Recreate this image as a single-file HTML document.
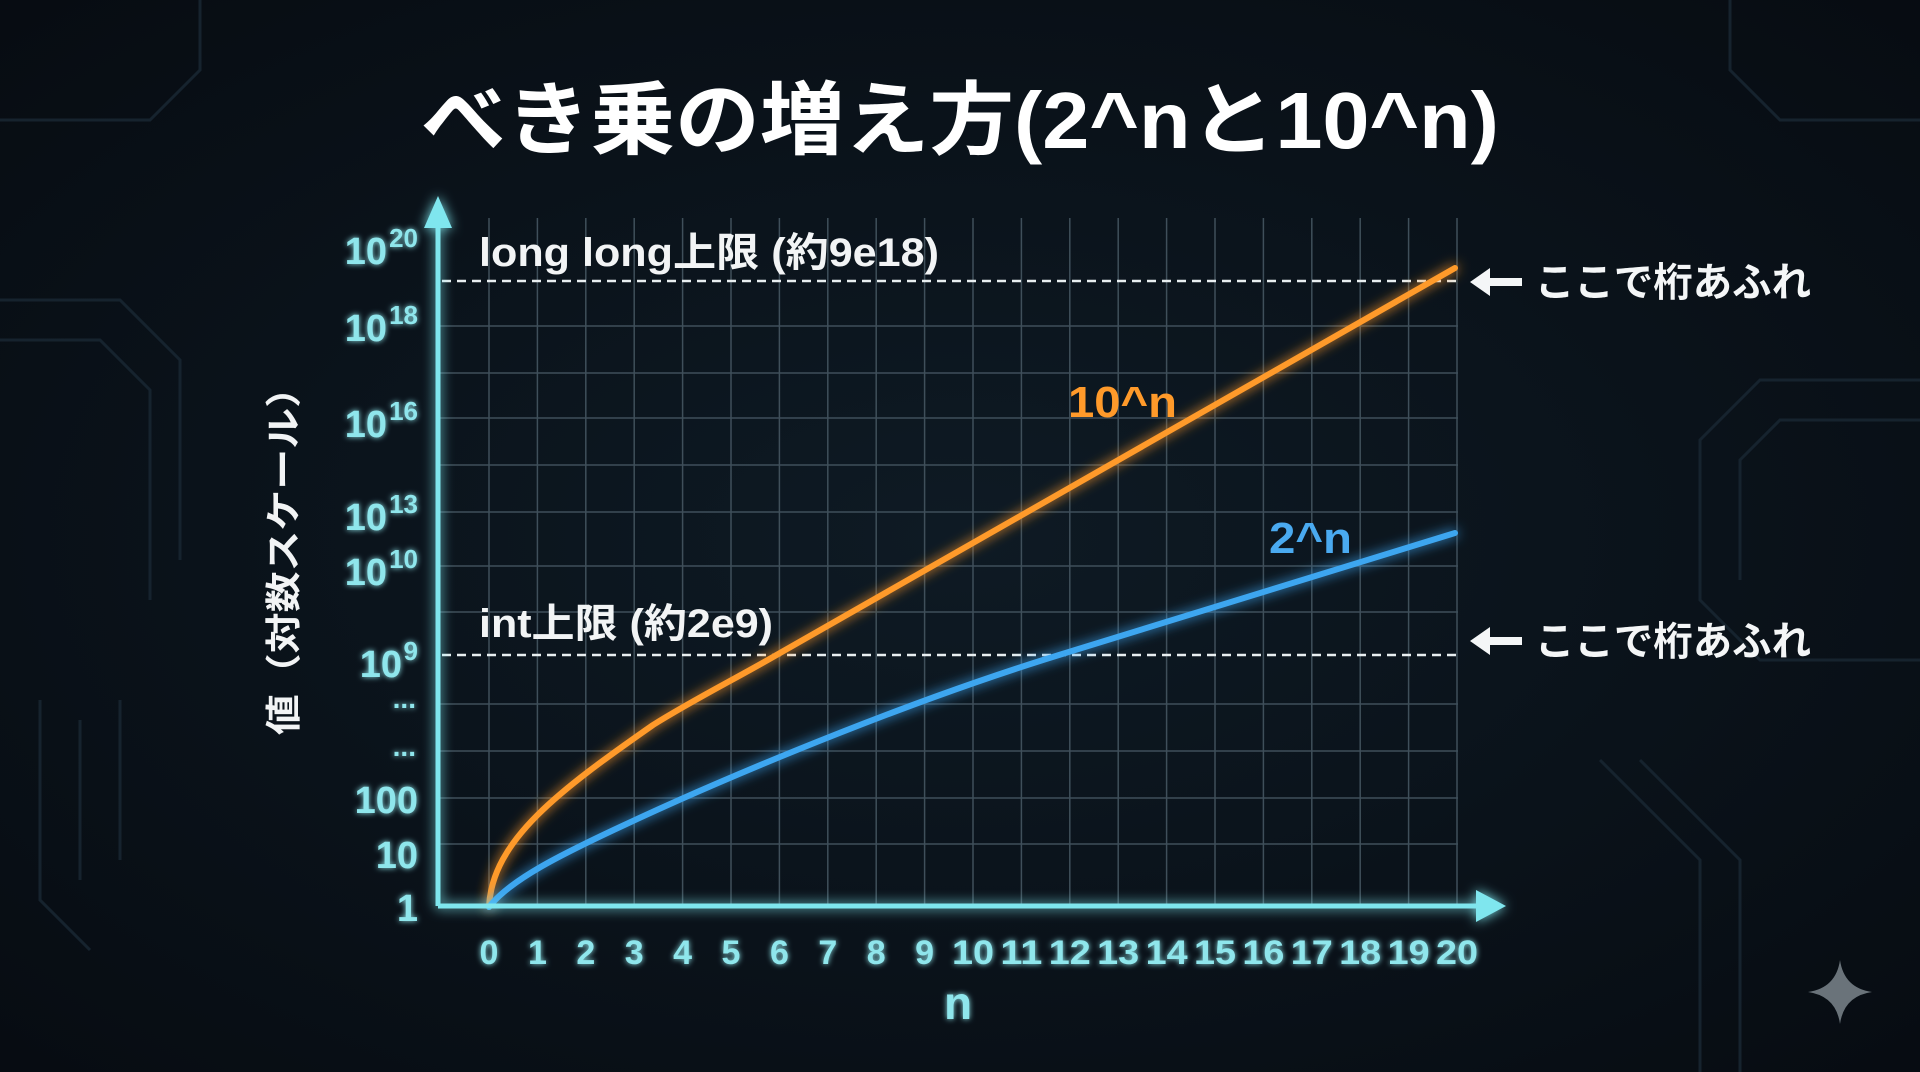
<!DOCTYPE html>
<html><head><meta charset="utf-8"><style>
html,body{margin:0;padding:0;background:#0a1118;}
svg{display:block}
text{font-family:"Liberation Sans","Noto Sans CJK JP",sans-serif;}
</style></head><body>
<svg width="1920" height="1072" viewBox="0 0 1920 1072" xmlns="http://www.w3.org/2000/svg">
<defs>
<radialGradient id="bg" cx="50%" cy="50%" r="70%">
<stop offset="0" stop-color="#0e1a24"/><stop offset="1" stop-color="#070c12"/>
</radialGradient>
<filter id="glow" x="-20%" y="-20%" width="140%" height="140%">
<feGaussianBlur stdDeviation="6" result="b"/>
<feMerge><feMergeNode in="b"/><feMergeNode in="SourceGraphic"/></feMerge>
</filter>
<filter id="glow2" x="-20%" y="-20%" width="140%" height="140%">
<feGaussianBlur stdDeviation="3" result="b"/>
<feMerge><feMergeNode in="b"/><feMergeNode in="SourceGraphic"/></feMerge>
</filter>
</defs>
<rect width="1920" height="1072" fill="url(#bg)"/>
<g stroke="#16232e" stroke-width="3" fill="none">
<path d="M0,300 H120 L180,360 V560"/><path d="M0,340 H100 L150,390 V600"/>
<path d="M40,700 V900 L90,950"/><path d="M80,720 V880"/><path d="M120,700 V860"/>
<path d="M1920,380 H1760 L1700,440 V600 L1760,660 H1920"/><path d="M1920,420 H1780 L1740,460 V580"/>
<path d="M1600,760 L1700,860 V1072"/><path d="M1640,760 L1740,860 V1072"/>
<path d="M0,120 H150 L200,70 V0"/><path d="M1920,120 H1780 L1730,70 V0"/>
</g>
<text x="421" y="148" font-size="80" font-weight="bold" fill="#ffffff" textLength="1078" lengthAdjust="spacingAndGlyphs">べき乗の増え方(2^nと10^n)</text>
<g stroke="#3f4f5a" stroke-width="1.5">
<line x1="440" y1="326" x2="1458" y2="326"/><line x1="440" y1="373" x2="1458" y2="373"/>
<line x1="440" y1="418" x2="1458" y2="418"/><line x1="440" y1="465" x2="1458" y2="465"/>
<line x1="440" y1="512" x2="1458" y2="512"/><line x1="440" y1="566" x2="1458" y2="566"/>
<line x1="440" y1="612" x2="1458" y2="612"/><line x1="440" y1="704" x2="1458" y2="704"/>
<line x1="440" y1="751" x2="1458" y2="751"/><line x1="440" y1="798" x2="1458" y2="798"/>
<line x1="440" y1="844" x2="1458" y2="844"/>
<line x1="489" y1="218" x2="489" y2="906"/><line x1="537.4" y1="218" x2="537.4" y2="906"/><line x1="585.8" y1="218" x2="585.8" y2="906"/><line x1="634.2" y1="218" x2="634.2" y2="906"/><line x1="682.6" y1="218" x2="682.6" y2="906"/><line x1="731" y1="218" x2="731" y2="906"/><line x1="779.4" y1="218" x2="779.4" y2="906"/><line x1="827.8" y1="218" x2="827.8" y2="906"/><line x1="876.2" y1="218" x2="876.2" y2="906"/><line x1="924.6" y1="218" x2="924.6" y2="906"/><line x1="973" y1="218" x2="973" y2="906"/><line x1="1021.4" y1="218" x2="1021.4" y2="906"/><line x1="1069.8" y1="218" x2="1069.8" y2="906"/><line x1="1118.2" y1="218" x2="1118.2" y2="906"/><line x1="1166.6" y1="218" x2="1166.6" y2="906"/><line x1="1215" y1="218" x2="1215" y2="906"/><line x1="1263.4" y1="218" x2="1263.4" y2="906"/><line x1="1311.8" y1="218" x2="1311.8" y2="906"/><line x1="1360.2" y1="218" x2="1360.2" y2="906"/><line x1="1408.6" y1="218" x2="1408.6" y2="906"/><line x1="1457" y1="218" x2="1457" y2="906"/>
</g>
<g stroke="#e8eef0" stroke-width="2.5" stroke-dasharray="9 6">
<line x1="442" y1="281" x2="1458" y2="281"/>
<line x1="442" y1="655" x2="1458" y2="655"/>
</g>
<path filter="url(#glow)" fill="none" stroke="#ff9a2a" stroke-width="6" stroke-linecap="round"
d="M489,907 C492,840 560,790 653,725 C693,700 733,680 773,657 L1455,268"/>
<path filter="url(#glow)" fill="none" stroke="#3ea6f0" stroke-width="6" stroke-linecap="round"
d="M489,907 C510,880 560,855 620,827 C720,780 900,704 1059,655 L1455,533"/>
<g filter="url(#glow)" fill="#7fe6ee" stroke="#7fe6ee">
<line x1="438" y1="906" x2="1485" y2="906" stroke-width="5"/>
<line x1="438" y1="906" x2="438" y2="225" stroke-width="5"/>
<polygon points="438,196 424,228 452,228" stroke="none"/>
<polygon points="1506,906 1476,890 1476,922" stroke="none"/>
</g>
<text x="479" y="266" font-size="40" font-weight="bold" fill="#f2f4f5" textLength="460" lengthAdjust="spacingAndGlyphs">long long上限 (約9e18)</text>
<text x="479" y="637" font-size="40" font-weight="bold" fill="#f2f4f5" textLength="294" lengthAdjust="spacingAndGlyphs">int上限 (約2e9)</text>
<text x="1068" y="417" font-size="44" font-weight="bold" fill="#ff9a2a" textLength="109" lengthAdjust="spacingAndGlyphs">10^n</text>
<text x="1269" y="553" font-size="44" font-weight="bold" fill="#4aaaf0" textLength="83" lengthAdjust="spacingAndGlyphs">2^n</text>
<g fill="#f4f6f7" font-weight="bold">
<polygon points="1470,282 1490,268 1490,278 1522,278 1522,286 1490,286 1490,296"/>
<text x="1535" y="296" font-size="40" textLength="276" lengthAdjust="spacingAndGlyphs">ここで桁あふれ</text>
<polygon points="1470,641 1490,627 1490,637 1522,637 1522,645 1490,645 1490,655"/>
<text x="1535" y="655" font-size="40" textLength="276" lengthAdjust="spacingAndGlyphs">ここで桁あふれ</text>
</g>
<g filter="url(#glow2)" fill="#8fe6ec" font-size="38" font-weight="bold" text-anchor="end">
<text x="387" y="264">10<tspan x="418" y="247" font-size="26">20</tspan></text>
<text x="387" y="341">10<tspan x="418" y="324" font-size="26">18</tspan></text>
<text x="387" y="437">10<tspan x="418" y="420" font-size="26">16</tspan></text>
<text x="387" y="530">10<tspan x="418" y="513" font-size="26">13</tspan></text>
<text x="387" y="585">10<tspan x="418" y="568" font-size="26">10</tspan></text>
<text x="402" y="677">10<tspan x="418" y="660" font-size="26">9</tspan></text>
<text x="416" y="708" font-size="28">...</text>
<text x="416" y="756" font-size="28">...</text>
<text x="418" y="813">100</text>
<text x="418" y="868">10</text>
<text x="418" y="921">1</text>
</g>
<g filter="url(#glow2)" fill="#8fe6ec" font-size="34" font-weight="bold" text-anchor="middle">
<text x="489" y="964">0</text><text x="537.4" y="964">1</text><text x="585.8" y="964">2</text><text x="634.2" y="964">3</text><text x="682.6" y="964">4</text><text x="731" y="964">5</text><text x="779.4" y="964">6</text><text x="827.8" y="964">7</text><text x="876.2" y="964">8</text><text x="924.6" y="964">9</text><text x="973" y="964" textLength="42" lengthAdjust="spacingAndGlyphs">10</text><text x="1021.4" y="964" textLength="42" lengthAdjust="spacingAndGlyphs">11</text><text x="1069.8" y="964" textLength="42" lengthAdjust="spacingAndGlyphs">12</text><text x="1118.2" y="964" textLength="42" lengthAdjust="spacingAndGlyphs">13</text><text x="1166.6" y="964" textLength="42" lengthAdjust="spacingAndGlyphs">14</text><text x="1215" y="964" textLength="42" lengthAdjust="spacingAndGlyphs">15</text><text x="1263.4" y="964" textLength="42" lengthAdjust="spacingAndGlyphs">16</text><text x="1311.8" y="964" textLength="42" lengthAdjust="spacingAndGlyphs">17</text><text x="1360.2" y="964" textLength="42" lengthAdjust="spacingAndGlyphs">18</text><text x="1408.6" y="964" textLength="42" lengthAdjust="spacingAndGlyphs">19</text><text x="1457" y="964" textLength="42" lengthAdjust="spacingAndGlyphs">20</text>
<text x="958" y="1019" font-size="46">n</text>
</g>
<text transform="translate(296,551) rotate(-90)" text-anchor="middle" font-size="36" font-weight="bold" fill="#f2f4f5" textLength="368" lengthAdjust="spacingAndGlyphs">値（対数スケール）</text>
<path d="M1840,960 Q1844,988 1872,992 Q1844,996 1840,1024 Q1836,996 1808,992 Q1836,988 1840,960Z" fill="#6a737a"/>
</svg>
</body></html>
